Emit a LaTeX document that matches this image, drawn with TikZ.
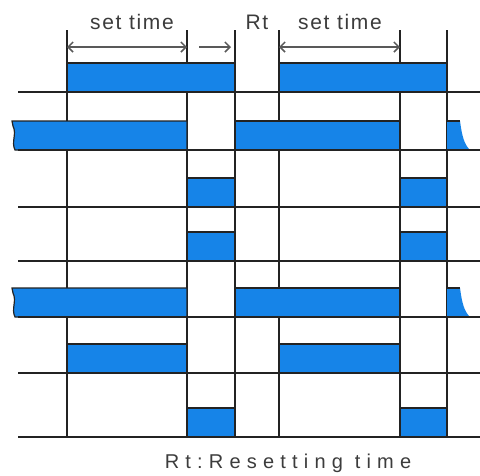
\documentclass[tikz,border=0pt]{standalone}
\usepackage{fontspec}
\setmainfont{Liberation Sans}
\usetikzlibrary{arrows.meta}
\definecolor{barblue}{RGB}{22,132,232}
\definecolor{inkgray}{RGB}{35,35,35}
\definecolor{textgray}{RGB}{60,60,60}

\begin{document}
\begin{tikzpicture}[x=1pt, y=-1pt,
    line/.style={line width=1.5pt, draw=inkgray},
    bar/.style={fill=barblue, draw=inkgray, line width=1.2pt},
    dim/.style={line width=1.5pt, draw=textgray!85, {Straight Barb[length=5pt,width=10pt]}-{Straight Barb[length=5pt,width=10pt]}},
    label/.style={text=textgray, inner sep=0pt, font=\fontsize{21}{24}\selectfont\addfontfeatures{LetterSpace=8}}]
  \useasboundingbox[fill=white] (0,0) rectangle (480,475);
  % time marks
  \foreach \t/\x in {a/67, b/187, c/235, d/279, e/400, f/447} {
    \coordinate (\t) at (\x,47);
    \draw[line] (\x,30) -- (\x,437);
  }
  % base lines
  \foreach \y in {92,150,207,261,317,373,437}
    \draw[line] (18,\y) -- (480,\y);
  % pulses
  \foreach \xa/\xb/\y in {67/235/92, 279/447/92,
                          187/235/207, 400/447/207,
                          187/235/261, 400/447/261,
                          67/187/373, 279/400/373,
                          187/235/437, 400/447/437}
    \draw[bar] (\xa,\y-29) rectangle (\xb,\y);
  % rows that start before the picture
  \foreach \y in {150,317} {
    \draw[bar] (187,\y-29) -- (187,\y) -- (15,\y)
      .. controls (11,\y-8) and (17,\y-16) .. (13,\y-24) -- (12,\y-29) -- cycle;
    \draw[bar] (235,\y-29) rectangle (400,\y);
    \draw[bar, draw=none] (447,\y-29) -- (460,\y-29)
      .. controls (462,\y-14) and (464,\y-6) .. (470,\y) -- (447,\y) -- cycle;
    \draw[line] (447,\y-29) -- (460,\y-29);
    \draw[line] (18,\y) -- (480,\y);
  }
  % dimensions
  \draw[dim] (a) -- (b);
  \draw[dim, -{Straight Barb[length=5pt,width=10pt]}] ([xshift=12pt]b) -- ([xshift=-4pt]c);
  \draw[dim] (d) -- (e);
  \node[label] (set1) at (132,22) {set time};
  \node[label] (rt) at (257,22) {Rt};
  \node[label] (set2) at (340,22) {set time};
  \node[label, font=\fontsize{20}{24}\selectfont\addfontfeatures{LetterSpace=31}] (note) at (288,463) {Rt:Resetting time};
\end{tikzpicture}
\end{document}
